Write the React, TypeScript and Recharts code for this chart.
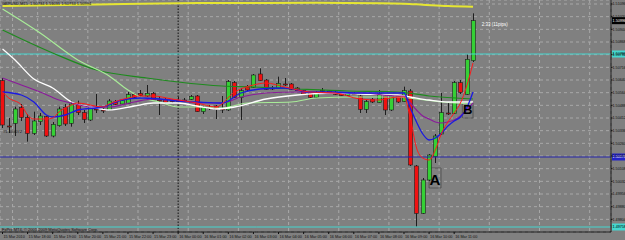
import React from "react";
import {
  ComposedChart,
  Bar,
  Line,
  XAxis,
  YAxis,
  CartesianGrid,
  ReferenceLine,
  ReferenceArea,
  ReferenceDot,
} from "recharts";

// GBPUSD M15, 15 Mar 17:00 -> 16 Mar 11:45 (one entry per candle)
const opens = [
  1.50636, 1.50364, 1.5038, 1.50474, 1.50416, 1.5032, 1.5039, 1.5042, 1.50304, 1.50366,
  1.50474, 1.5038, 1.50496, 1.50444, 1.504, 1.50466, 1.5046, 1.5046, 1.50508, 1.50496,
  1.505, 1.50552, 1.5056, 1.50544, 1.5056, 1.5052, 1.50524, 1.50516, 1.50516, 1.5052,
  1.50524, 1.50544, 1.5045, 1.50475, 1.50484, 1.50466, 1.5046, 1.50624, 1.50536, 1.506,
  1.50596, 1.50676, 1.5064, 1.50592, 1.5059, 1.50616, 1.50616, 1.50592, 1.50576, 1.5056,
  1.50536, 1.50576, 1.50574, 1.50566, 1.5056, 1.50548, 1.50558, 1.50544, 1.50464, 1.50524,
  1.50504, 1.50544, 1.5046, 1.5054, 1.5051, 1.50574, 1.50124, 1.4984, 1.5004, 1.5018,
  1.50316, 1.50442, 1.5044, 1.50624, 1.50554, 1.50756,
];
const highs = [
  1.50652, 1.50412, 1.5048, 1.50496, 1.50436, 1.5045, 1.50442, 1.50426, 1.50388, 1.5048,
  1.50496, 1.50516, 1.50516, 1.5046, 1.50484, 1.50556, 1.50472, 1.50526, 1.5052, 1.50524,
  1.50568, 1.50562, 1.5058, 1.5061, 1.50568, 1.50544, 1.50532, 1.50526, 1.50538, 1.50532,
  1.5055, 1.5055, 1.50484, 1.5049, 1.5049, 1.50544, 1.5064, 1.50634, 1.50592, 1.5061,
  1.50676, 1.5071, 1.50646, 1.50604, 1.5066, 1.50652, 1.50622, 1.50598, 1.5058, 1.50568,
  1.50574, 1.50592, 1.5058, 1.50574, 1.50568, 1.50568, 1.50568, 1.5055, 1.5052, 1.50532,
  1.5058, 1.5055, 1.5055, 1.50544, 1.506, 1.50586, 1.5013, 1.50052, 1.50196, 1.50316,
  1.50562, 1.50502, 1.50634, 1.5064, 1.50794, 1.5104,
];
const lows = [
  1.50352, 1.50322, 1.50304, 1.50394, 1.5027, 1.5031, 1.5037, 1.50298, 1.50296, 1.5036,
  1.50364, 1.5036, 1.5043, 1.50382, 1.50394, 1.50442, 1.50442, 1.50454, 1.5049, 1.5049,
  1.50496, 1.50532, 1.50538, 1.50538, 1.50514, 1.5043, 1.50496, 1.50502, 1.50508, 1.50508,
  1.5052, 1.50448, 1.50436, 1.5046, 1.50406, 1.50442, 1.50454, 1.50532, 1.504, 1.50574,
  1.50592, 1.50634, 1.5058, 1.5058, 1.50586, 1.50604, 1.5058, 1.50574, 1.5055, 1.50532,
  1.50532, 1.50562, 1.50556, 1.5055, 1.50544, 1.50544, 1.5055, 1.50442, 1.50442, 1.50502,
  1.50502, 1.5043, 1.50454, 1.50502, 1.50508, 1.50124, 1.4976, 1.49836, 1.50034, 1.50142,
  1.5031, 1.5043, 1.50436, 1.50556, 1.5055, 1.50748,
];
const closes = [
  1.5037, 1.50358, 1.50466, 1.50416, 1.5032, 1.50394, 1.50424, 1.50304, 1.50374, 1.50466,
  1.50376, 1.50496, 1.50444, 1.50404, 1.50474, 1.5046, 1.50456, 1.50514, 1.50494, 1.50516,
  1.50552, 1.50536, 1.50546, 1.5056, 1.5052, 1.50516, 1.50504, 1.50512, 1.50514, 1.50516,
  1.5054, 1.5045, 1.50476, 1.50472, 1.50464, 1.50462, 1.5063, 1.50536, 1.50576, 1.5058,
  1.5067, 1.50636, 1.50584, 1.50588, 1.5062, 1.50612, 1.50584, 1.50576, 1.50556, 1.50536,
  1.50566, 1.50572, 1.5056, 1.50554, 1.50546, 1.5056, 1.50554, 1.50464, 1.5051, 1.50508,
  1.5056, 1.5046, 1.50544, 1.50508, 1.50576, 1.5013, 1.4984, 1.5004, 1.5019, 1.50304,
  1.50444, 1.50436, 1.50624, 1.50566, 1.50764, 1.50996,
];

// moving averages, [candle index, price]
const maYellow: [number, number][] = [
  [0, 1.51084], [5, 1.51087], [15, 1.51093], [25, 1.51099], [35, 1.51102], [50, 1.51103],
  [60, 1.51101], [64, 1.51098], [67, 1.51092], [71, 1.51084], [75, 1.5108],
];
const maDarkGreen: [number, number][] = [
  [0, 1.5094], [8, 1.50802], [15, 1.507], [23, 1.50652], [28, 1.50628], [35, 1.50604],
  [40, 1.50598], [47, 1.50586], [55, 1.50574], [63, 1.50568], [68, 1.50544], [75, 1.50526],
];
const maLightGreen: [number, number][] = [
  [0, 1.51066], [6, 1.50922], [12, 1.5076], [17, 1.50664], [20, 1.5058], [22, 1.50538],
  [25, 1.50508], [28, 1.50478], [31, 1.50478], [35, 1.50472], [39, 1.50502], [46, 1.50508],
  [50, 1.50532], [56, 1.50538], [63, 1.50538], [66, 1.50526], [70, 1.50508], [75, 1.50496],
];
const maWhite: [number, number][] = [
  [0, 1.50826], [2, 1.5076], [5, 1.50646], [8, 1.50592], [11, 1.50508], [14, 1.50478],
  [17, 1.5046], [21, 1.50484], [24, 1.50502], [28, 1.50502], [31, 1.50484], [34, 1.50466],
  [37, 1.50478], [42, 1.50526], [47, 1.5055], [53, 1.50562], [57, 1.50556], [63, 1.5055],
  [65, 1.50538], [68, 1.5052], [71, 1.50508], [75, 1.50508],
];
const maPurple: [number, number][] = [
  [0, 1.50652], [3, 1.5061], [6, 1.50568], [9, 1.5052], [11, 1.50502], [14, 1.50478],
  [17, 1.50478], [21, 1.50508], [24, 1.50526], [28, 1.5052], [31, 1.50502], [35, 1.50502],
  [38, 1.50538], [42, 1.50562], [47, 1.50568], [53, 1.50562], [57, 1.50562], [63, 1.50544],
  [64, 1.50544], [65, 1.50502], [66, 1.5046], [67, 1.50424], [68, 1.50406], [69, 1.50388],
  [70, 1.50382], [71, 1.50388], [72, 1.504], [73, 1.50424], [74, 1.5046], [75, 1.50502],
];
const maBlue: [number, number][] = [
  [0, 1.50568], [3, 1.5055], [5, 1.50508], [7, 1.5043], [8, 1.50418], [10, 1.5043],
  [12, 1.5046], [16, 1.50478], [19, 1.5052], [22, 1.50532], [25, 1.50526], [28, 1.50514],
  [31, 1.50508], [35, 1.50502], [38, 1.50562], [41, 1.50586], [45, 1.50592], [49, 1.50568],
  [53, 1.50568], [56, 1.50562], [61, 1.50562], [64, 1.50562], [65, 1.50472], [66, 1.50388],
  [67, 1.50316], [68, 1.5028], [69, 1.50292], [70, 1.50322], [71, 1.50364], [72, 1.50394],
  [73, 1.50418], [74, 1.50472], [75, 1.50568],
];
const maRed: [number, number][] = [
  [0, 1.50568], [1, 1.50532], [3, 1.5049], [4, 1.5043], [5, 1.50406], [7, 1.50406],
  [8, 1.50412], [9, 1.50448], [11, 1.5049], [12, 1.50502], [16, 1.50478], [17, 1.50496],
  [20, 1.50532], [22, 1.50544], [24, 1.50544], [27, 1.50526], [31, 1.50502], [34, 1.50478],
  [37, 1.50568], [40, 1.5061], [42, 1.50622], [45, 1.50598], [49, 1.50568], [53, 1.50562],
  [57, 1.50526], [60, 1.5052], [63, 1.50538], [64, 1.50538], [65, 1.50412], [66, 1.50232],
  [67, 1.50172], [68, 1.5016], [69, 1.5022], [70, 1.50322], [71, 1.50388], [72, 1.50442],
  [73, 1.50502], [74, 1.50604], [75, 1.50742],
];

// horizontal objects
const cyanTop = 1.50796;
const blueLevel = 1.50178;
const cyanBottom = 1.49758;
const bidPrice = 1.50996;

const priceTicks = [
  1.49804, 1.4988, 1.49956, 1.50032, 1.50108, 1.50184, 1.5026, 1.50336, 1.50412,
  1.50488, 1.50564, 1.5064, 1.50716, 1.50792, 1.50868, 1.50944, 1.5102, 1.51096,
];
const timeTicks = [0, 4, 8, 12, 16, 20, 24, 28, 32, 36, 40, 44, 48, 52, 56, 60, 64, 68, 72];
const timeLabels = [
  "15 Mar 2010", "15 Mar 18:00", "15 Mar 19:00", "15 Mar 20:00", "15 Mar 21:00",
  "15 Mar 22:00", "15 Mar 23:00", "16 Mar 00:00", "16 Mar 01:00", "16 Mar 02:00",
  "16 Mar 03:00", "16 Mar 04:00", "16 Mar 05:00", "16 Mar 06:00", "16 Mar 07:00",
  "16 Mar 08:00", "16 Mar 09:00", "16 Mar 10:00", "16 Mar 11:00",
];
const gridTicks = [
  1.6, 5.6, 9.6, 13.6, 17.6, 21.6, 25.6, 29.6, 33.6, 37.6, 41.6, 45.6, 49.6, 53.6, 57.6,
  61.6, 65.6, 69.6, 73.6, 77.6, 81.6, 85.6, 89.6, 93.6,
];

const candles = opens.map((o, i) => ({
  i,
  o,
  h: highs[i],
  l: lows[i],
  c: closes[i],
  range: [lows[i], highs[i]],
}));
const pts = (a: [number, number][]) => a.map(([i, v]) => ({ i, v }));

const FONT = "'Liberation Sans', Arial, sans-serif";

function Candle(props: any) {
  const { x, y, width, height, payload } = props;
  if (x == null || !payload) return null;
  const { o, h, l, c } = payload;
  const top = Math.min(y, y + height);
  const hgt = Math.abs(height);
  const k = h - l > 0 ? hgt / (h - l) : 0;
  const py = (p: number) => top + (h - p) * k;
  const cx = Math.round(x + width / 2) + 0.5;
  const bTop = py(Math.max(o, c));
  const bBot = py(Math.min(o, c));
  const up = c > o;
  const doji = Math.abs(c - o) < 0.00002;
  return (
    <g>
      <line x1={cx} x2={cx} y1={top} y2={top + hgt} stroke="#1e1e1e" strokeWidth={1} />
      {doji ? (
        <line x1={cx - 2} x2={cx + 2} y1={bTop} y2={bTop} stroke="#1e1e1e" strokeWidth={1} />
      ) : (
        <rect
          x={cx - 2}
          y={bTop}
          width={4}
          height={Math.max(bBot - bTop, 1)}
          fill={up ? "#35d035" : "#f01010"}
          stroke="#1e1e1e"
          strokeWidth={0.6}
        />
      )}
    </g>
  );
}

function PriceTick({ x, y, payload }: any) {
  return (
    <text x={x} y={y + 1.4} fontSize={3.7} fill="#111" fontFamily={FONT} textAnchor="start">
      {Number(payload.value).toFixed(5)}
    </text>
  );
}

function TimeTick({ x, y, payload }: any) {
  const k = timeTicks.indexOf(payload.value);
  return (
    <text x={x + 1} y={y + 3.6} fontSize={3.8} fill="#111" fontFamily={FONT} textAnchor="start">
      {k >= 0 ? timeLabels[k] : ""}
    </text>
  );
}

const axisTag = (bg: string, fg: string, value: number) => (p: any) => {
  const vb = p.viewBox || {};
  const x = (vb.x ?? 0) + (vb.width ?? 0) + 1;
  const y = vb.y ?? 0;
  return (
    <g>
      <rect x={x} y={y - 3.5} width={14} height={7} fill={bg} />
      <text x={x + 0.6} y={y + 1.4} fontSize={3.7} fill={fg} fontFamily={FONT}>
        {value.toFixed(5)}
      </text>
    </g>
  );
};

const lineProps = { type: "monotone" as const, dot: false, activeDot: false, isAnimationActive: false };

export default function App() {
  return (
    <div
      style={{
        position: "absolute",
        left: 0,
        top: 0,
        width: 625,
        height: 240,
        background: "#808080",
        overflow: "hidden",
      }}
    >
      <ComposedChart
        width={625}
        height={240}
        data={candles}
        margin={{ top: 0, right: 0, left: 0, bottom: 0 }}
      >
        <XAxis
          dataKey="i"
          type="number"
          domain={[-0.4, 97]}
          allowDataOverflow
          ticks={timeTicks}
          interval={0}
          height={8}
          tickSize={2}
          tickMargin={0}
          axisLine={{ stroke: "#111" }}
          tickLine={{ stroke: "#111" }}
          tick={<TimeTick />}
        />
        <XAxis xAxisId="grid" dataKey="i" type="number" domain={[-0.4, 97]} allowDataOverflow ticks={gridTicks} hide />
        <YAxis
          orientation="right"
          type="number"
          domain={[1.49728, 1.5112]}
          allowDataOverflow
          ticks={priceTicks}
          interval={0}
          width={14}
          tickSize={1.5}
          tickMargin={0}
          axisLine={{ stroke: "#111" }}
          tickLine={{ stroke: "#111" }}
          tick={<PriceTick />}
        />
        <CartesianGrid xAxisId="grid" stroke="#a8a8a8" strokeDasharray="3 3" />
        <ReferenceLine x={28} stroke="#111" strokeDasharray="1.5 1.5" />
        <ReferenceLine y={cyanTop} stroke="#44d6cf" strokeWidth={1} label={axisTag("#44d6cf", "#000", cyanTop)} />
        <ReferenceLine y={blueLevel} stroke="#2323a8" strokeWidth={1} label={axisTag("#2323c8", "#fff", blueLevel)} />
        <ReferenceLine y={cyanBottom} stroke="#44d6cf" strokeWidth={1} label={axisTag("#44d6cf", "#000", cyanBottom)} />
        <ReferenceLine y={bidPrice} stroke="none" strokeOpacity={0} label={axisTag("#000", "#fff", bidPrice)} />

        <Line data={pts(maYellow)} dataKey="v" stroke="#e6e632" strokeWidth={2} {...lineProps} />
        <Line data={pts(maDarkGreen)} dataKey="v" stroke="#1e8a1e" strokeWidth={1.2} {...lineProps} />
        <Line data={pts(maLightGreen)} dataKey="v" stroke="#a8ec98" strokeWidth={1.2} {...lineProps} />
        <Line data={pts(maWhite)} dataKey="v" stroke="#ffffff" strokeWidth={1.3} {...lineProps} />

        <Bar dataKey="range" barSize={4} isAnimationActive={false} shape={(p: any) => <Candle {...p} />} />

        <Line data={pts(maPurple)} dataKey="v" stroke="#8a1a9a" strokeWidth={1.2} {...lineProps} />
        <Line data={pts(maBlue)} dataKey="v" stroke="#1a1ae0" strokeWidth={1.3} {...lineProps} />
        <Line data={pts(maRed)} dataKey="v" stroke="#ff1a1a" strokeWidth={1} {...lineProps} />

        <ReferenceArea
          x1={68}
          x2={69.9}
          y1={1.49992}
          y2={1.50112}
          fill="none"
          stroke="#4a4a4a"
          strokeWidth={0.8}
          label={{ value: "A", position: "center", fontSize: 15, fontWeight: 700, fill: "#000", fontFamily: FONT, dy: 2 }}
        />
        <ReferenceArea
          x1={73.3}
          x2={75}
          y1={1.50412}
          y2={1.50502}
          fill="none"
          stroke="#4a4a4a"
          strokeWidth={0.8}
          label={{ value: "B", position: "center", fontSize: 13, fontWeight: 700, fill: "#000", fontFamily: FONT, dy: -1 }}
        />
        <ReferenceDot
          x={76.4}
          y={1.50976}
          r={0}
          fill="none"
          stroke="none"
          label={{ value: "2:33 (11pips)", position: "right", offset: 0, fontSize: 4.5, fill: "#fff", fontFamily: FONT }}
        />
        <ReferenceDot
          x={0.1}
          y={1.50328}
          r={0}
          fill="none"
          stroke="none"
          label={{ value: "#1.503072", position: "right", offset: 0, fontSize: 4, fill: "#111", fontFamily: FONT }}
        />
      </ComposedChart>
      <div
        style={{
          position: "absolute",
          left: 2,
          top: 1,
          fontSize: 4,
          lineHeight: "5px",
          color: "#111",
          fontFamily: FONT,
          whiteSpace: "nowrap",
        }}
      >
        GBPUSD,M15&nbsp; 1.50734 1.51031 1.50734 1.50994
      </div>
      <div
        style={{
          position: "absolute",
          left: 2,
          top: 227,
          fontSize: 4,
          lineHeight: "5px",
          color: "#111",
          fontFamily: FONT,
          whiteSpace: "nowrap",
        }}
      >
        FxPro MT4, © 2001-2009 MetaQuotes Software Corp.
      </div>
    </div>
  );
}
